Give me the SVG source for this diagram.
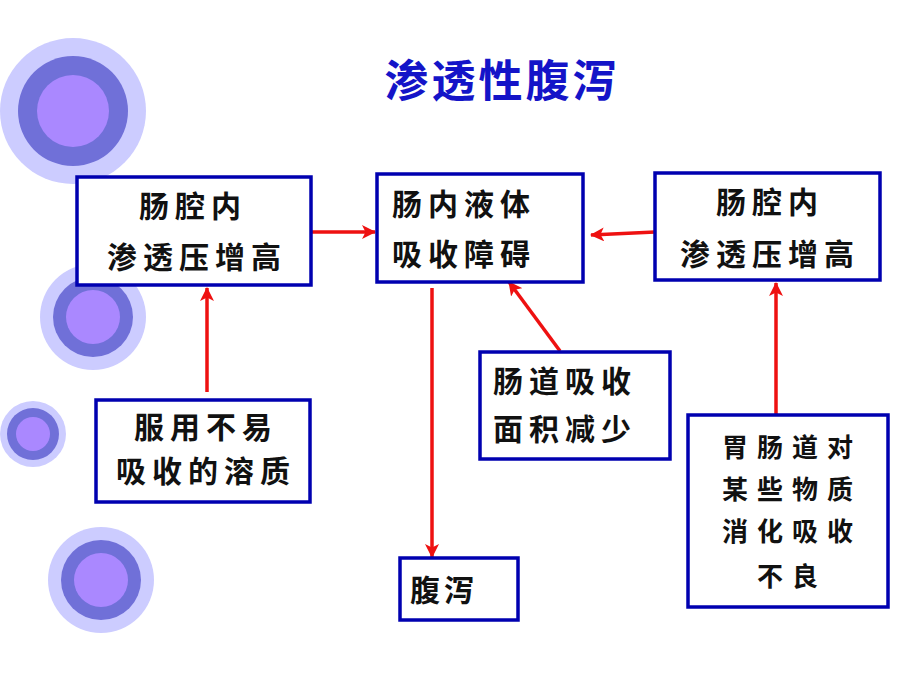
<svg xmlns="http://www.w3.org/2000/svg" width="907" height="680" viewBox="0 0 907 680">
<defs>
<style>
.o{fill:#ccccff}.m{fill:#7070d8}.i{fill:#aa88ff}
.box{fill:#ffffff;stroke:#0000b0;stroke-width:3.5}
.t{font-family:"Noto Sans CJK SC","Noto Sans CJK JP",sans-serif;font-size:30px;font-weight:700;fill:#111111}
.c{text-anchor:middle}
.s{font-size:26px}
.title{font-family:"Noto Sans CJK SC",sans-serif;font-size:44px;font-weight:700;fill:#1414c8;text-anchor:middle;letter-spacing:3px}
.ln{stroke:#ee1111;stroke-width:3.5;fill:none}
</style>
<marker id="ah" viewBox="0 0 14 14" refX="13" refY="7" markerWidth="14" markerHeight="14" markerUnits="userSpaceOnUse" orient="auto">
<path d="M0,0 L14,7 L0,14 L3.5,7 Z" fill="#ee1111"/>
</marker>
</defs>
<rect width="907" height="680" fill="#ffffff"/>
<g id="decor">
<circle class="o" cx="73" cy="111" r="73"/><circle class="m" cx="73" cy="111" r="55"/><circle class="i" cx="73" cy="111" r="36"/>
<circle class="o" cx="93" cy="317" r="53"/><circle class="m" cx="93" cy="317" r="40"/><circle class="i" cx="93" cy="317" r="27"/>
<circle class="o" cx="33" cy="434" r="33"/><circle class="m" cx="33" cy="434" r="26"/><circle class="i" cx="33" cy="434" r="17"/>
<circle class="o" cx="101" cy="580" r="53"/><circle class="m" cx="101" cy="580" r="40"/><circle class="i" cx="101" cy="580" r="27"/>
</g>
<text class="title" x="502" y="97">渗透性腹泻</text>
<g id="connectors">
<line class="ln" x1="311" y1="232" x2="375" y2="232" marker-end="url(#ah)"/>
<line class="ln" x1="655" y1="232" x2="591" y2="235" marker-end="url(#ah)"/>
<line class="ln" x1="207" y1="392" x2="207" y2="288" marker-end="url(#ah)"/>
<line class="ln" x1="432" y1="288" x2="432" y2="557" marker-end="url(#ah)"/>
<line class="ln" x1="560" y1="351" x2="509" y2="282" marker-end="url(#ah)"/>
<line class="ln" x1="776" y1="415" x2="776" y2="283" marker-end="url(#ah)"/>
</g>
<g id="n1">
<rect class="box" x="77" y="177" width="234" height="108"/>
<text class="t c" x="193" y="217" letter-spacing="6">肠腔内</text>
<text class="t c" x="197" y="268" letter-spacing="6">渗透压增高</text>
</g>
<g id="n2">
<rect class="box" x="377" y="174" width="206" height="108"/>
<text class="t" x="392" y="215" letter-spacing="6">肠内液体</text>
<text class="t" x="392" y="265" letter-spacing="6">吸收障碍</text>
</g>
<g id="n3">
<rect class="box" x="655" y="173" width="225" height="107"/>
<text class="t c" x="770" y="213" letter-spacing="6">肠腔内</text>
<text class="t c" x="770" y="265" letter-spacing="6">渗透压增高</text>
</g>
<g id="n4">
<rect class="box" x="96" y="400" width="214" height="102"/>
<text class="t c" x="206" y="438" letter-spacing="6">服用不易</text>
<text class="t c" x="206" y="482" letter-spacing="6">吸收的溶质</text>
</g>
<g id="n5">
<rect class="box" x="480" y="352" width="190" height="107"/>
<text class="t" x="493" y="392" letter-spacing="6">肠道吸收</text>
<text class="t" x="493" y="440" letter-spacing="6">面积减少</text>
</g>
<g id="n6">
<rect class="box" x="400" y="558" width="118" height="62"/>
<text class="t" x="410" y="601" letter-spacing="4">腹泻</text>
</g>
<g id="n7">
<rect class="box" x="688" y="415" width="200" height="192"/>
<text class="t s c" x="792" y="457" letter-spacing="9">胃肠道对</text>
<text class="t s c" x="792" y="499" letter-spacing="9">某些物质</text>
<text class="t s c" x="792" y="541" letter-spacing="9">消化吸收</text>
<text class="t s c" x="792" y="586" letter-spacing="9">不良</text>
</g>
</svg>
